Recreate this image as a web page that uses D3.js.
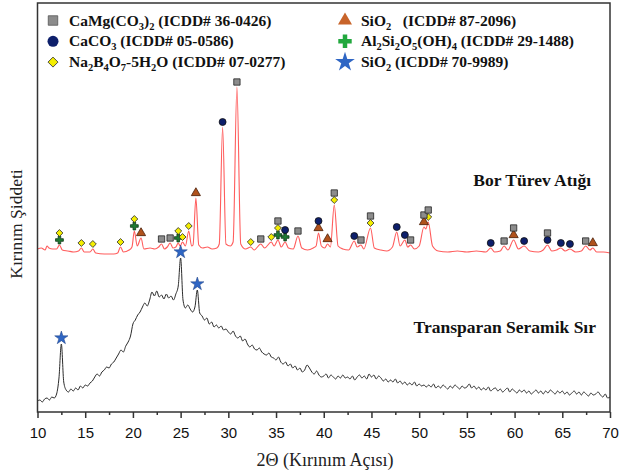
<!DOCTYPE html>
<html>
<head>
<meta charset="utf-8">
<script src="https://cdn.jsdelivr.net/npm/d3@7"></script>
<style>
  body { margin: 0; background: #fff; }
  svg { display: block; }
</style>
</head>
<body>
<div id="chart"></div>
<script>
// 2θ axis ticks
const majorTicks = [10, 15, 20, 25, 30, 35, 40, 45, 50, 55, 60, 65, 70];
const minorTicks = [12.5, 17.5, 22.5, 27.5, 32.5, 37.5, 42.5, 47.5, 52.5, 57.5, 62.5, 67.5];

// Bor Türev Atığı (red trace), 2θ and intensity (a.u.)
const redX = [10.0, 10.4, 10.8, 11.0, 11.2, 11.6, 12.0, 12.3, 12.6, 13.2, 13.8, 14.3, 14.6, 14.9, 15.5, 15.8,
  16.1, 17.0, 18.0, 18.4, 18.7, 19.0, 19.6, 19.9, 20.15, 20.45, 20.85, 21.15, 21.8, 22.3, 22.7, 23.0,
  23.3, 23.6, 23.9, 24.2, 24.5, 24.75, 24.95, 25.2, 25.5, 25.85, 26.15, 26.3, 26.6, 26.9, 27.3, 27.8,
  28.3, 28.8, 29.05, 29.4, 29.75, 30.2, 30.5, 30.9, 31.3, 31.8, 32.35, 32.7, 33.4, 33.8, 34.5, 34.8,
  35.2, 35.55, 35.95, 36.3, 36.8, 37.3, 37.7, 38.3, 38.9, 39.2, 39.45, 39.75, 40.1, 40.4, 40.7, 41.1,
  41.5, 42.0, 42.6, 43.2, 43.5, 43.9, 44.2, 44.9, 45.3, 46.0, 46.6, 47.2, 47.65, 48.0, 48.5, 48.8,
  49.1, 49.5, 50.0, 50.5, 50.7, 50.95, 51.4, 52.0, 53.0, 54.0, 55.0, 56.0, 57.0, 57.5, 57.9, 58.5,
  58.9, 59.3, 59.9, 60.4, 61.0, 61.6, 62.5, 63.0, 63.45, 63.9, 64.4, 64.85, 65.3, 65.8, 66.4, 67.0,
  67.45, 67.9, 68.2, 68.6, 69.3, 70.0];
const redY = [163, 164, 162, 166, 164, 163, 163, 167, 162, 161, 160, 161, 164, 160, 160, 163,
  159, 158, 158, 159, 165, 160, 162, 165, 181, 166, 174, 163, 164, 163, 165, 168,
  163, 165, 169, 164, 165, 169, 166, 170, 166, 181, 166, 167, 214, 167, 164, 165,
  163, 164, 168, 285, 168, 166, 170, 325, 168, 163, 165, 162, 168, 164, 170, 166,
  172, 165, 170, 164, 163, 176, 164, 162, 164, 166, 179, 166, 164, 168, 165, 207,
  166, 163, 162, 171, 165, 167, 163, 184, 164, 162, 161, 165, 180, 166, 172, 165,
  167, 163, 166, 185, 183, 190, 166, 161, 160, 161, 160, 161, 160, 164, 160, 161,
  166, 162, 172, 163, 166, 161, 160, 162, 167, 161, 162, 164, 161, 163, 160, 161,
  166, 162, 164, 160, 160, 159];

// Transparan Seramik Sır (black trace), 2θ from 10 to 70 every 0.25
const blackStart = 10;
const blackStep = 0.25;
const blackY = [
  11, 12, 10, 13, 14, 12, 15, 14, 18, 34, 68, 30, 22, 20, 23, 21,
  24, 22, 26, 24, 27, 26, 29, 31, 35, 38, 36, 40, 42, 45, 44, 48,
  50, 54, 58, 62, 60, 66, 70, 76, 88, 92, 97, 100, 105, 109, 106, 112,
  120, 116, 121, 115, 117, 113, 118, 114, 116, 112, 118, 126, 154, 112, 104, 107,
  103, 100, 105, 122, 99, 96, 92, 94, 88, 90, 85, 87, 84, 86, 82, 83,
  80, 78, 81, 76, 74, 76, 71, 73, 68, 65, 67, 63, 62, 64, 60, 58,
  57, 59, 55, 54, 52, 55, 50, 48, 50, 46, 48, 44, 46, 42, 44, 40,
  42, 47, 44, 40, 38, 41, 37, 35, 36, 38, 34, 37, 35, 33, 36, 34,
  37, 34, 35, 33, 36, 32, 35, 37, 34, 36, 33, 38, 35, 37, 33, 36,
  34, 31, 33, 30, 32, 30, 33, 29, 31, 28, 30, 27, 29, 27, 30, 26,
  28, 26, 27, 25, 27, 25, 28, 24, 26, 24, 27, 25, 23, 26, 24, 27,
  25, 23, 26, 24, 25, 28, 24, 26, 23, 25, 22, 24, 22, 25, 21, 23,
  24, 21, 23, 20, 22, 24, 20, 23, 21, 19, 22, 20, 22, 19, 21, 18,
  20, 22, 19, 21, 18, 21, 19, 22, 20, 18, 21, 19, 21, 18, 20, 17,
  19, 21, 18, 20, 17, 20, 18, 16, 19, 17, 18, 20, 17, 15, 18, 14,
  15];

// phase reflections (2θ)
const dolomitePeaks = [23.0, 23.9, 30.9, 33.4, 35.2, 37.3, 41.1, 43.9, 44.9, 49.1, 50.5, 50.95, 58.9, 59.9, 63.45, 67.45];
const calcitePeaks = [29.4, 35.95, 39.45, 43.2, 47.65, 48.5, 57.5, 61.0, 63.45, 64.85, 65.8];
const boraxPeaks = [12.3, 14.6, 15.8, 18.7, 20.15, 24.75, 25.2, 25.85, 32.35, 34.5, 35.2, 41.1, 44.9, 50.95];
const quartzPeaks = [20.85, 26.6, 39.45, 40.4, 50.5, 59.9, 68.2];
const kaolinitePeaks = [12.3, 20.15, 24.75, 35.2, 35.95];
const glazeQuartzPeaks = [12.5, 25.0, 26.75];

const phaseNames = [
  [['CaMg(CO', 0], ['3', 1], [')', 0], ['2', 1], [' (ICDD# 36-0426)', 0]],
  [['CaCO', 0], ['3', 1], [' (ICDD# 05-0586)', 0]],
  [['Na', 0], ['2', 1], ['B', 0], ['4', 1], ['O', 0], ['7', 1], ['-5H', 0], ['2', 1], ['O (ICDD# 07-0277)', 0]],
  [['SiO', 0], ['2', 1], ['\u00a0\u00a0 (ICDD# 87-2096)', 0]],
  [['Al', 0], ['2', 1], ['Si', 0], ['2', 1], ['O', 0], ['5', 1], ['(OH)', 0], ['4', 1], [' (ICDD# 29-1488)', 0]],
  [['SiO', 0], ['2', 1], [' (ICDD# 70-9989)', 0]]
];

const WIDTH = 619;
const HEIGHT = 475;
const LEFT = 37.5;
const RIGHT = 610;
const TOP = 3;
const BOTTOM = 412;

const serif = '"Times New Roman", "Liberation Serif", serif';
const sans = 'Arial, "Liberation Sans", sans-serif';

const styles = {
  square: { type: d3.symbolSquare, fill: '#8c8c8c', stroke: '#222', size: 40, legendSize: 90, rotate: 0 },
  circle: { type: d3.symbolCircle, fill: '#0d1f6b', stroke: '#111', size: 38, legendSize: 95, rotate: 0 },
  diamond: { type: d3.symbolSquare, fill: '#f4ee00', stroke: '#333', size: 24, legendSize: 50, rotate: 45 },
  triangle: { type: d3.symbolTriangle, fill: '#b0521c', stroke: '#4a1e08', size: 36, legendSize: 85, rotate: 0 },
  plus: { type: d3.symbolCross, fill: '#1f7a33', stroke: '#0f3a18', size: 34, legendSize: 100, rotate: 0 },
  star: { type: d3.symbolStar, fill: '#2f66c4', stroke: '#1d3f80', size: 55, legendSize: 120, rotate: 0 }
};

const symbolPath = (key, size) => d3.symbol().type(styles[key].type).size(size)();

const drawChart = () => {
  const svg = d3.select('#chart')
    .append('svg')
    .attr('width', WIDTH)
    .attr('height', HEIGHT);

  const x = d3.scaleLinear().domain([10, 70]).range([LEFT, RIGHT]);
  const y = d3.scaleLinear().domain([0, BOTTOM - TOP]).range([BOTTOM, TOP]);

  const line = d3.line()
    .x((d) => x(d[0]))
    .y((d) => y(d[1]))
    .curve(d3.curveMonotoneX);

  const redData = redX.map((t, i) => [t, redY[i]]);
  const blackData = blackY.map((v, i) => [blackStart + i * blackStep, v]);

  svg.append('path')
    .datum(blackData)
    .attr('fill', 'none')
    .attr('stroke', '#2b2b2b')
    .attr('stroke-width', 1)
    .attr('d', line);

  svg.append('path')
    .datum(redData)
    .attr('fill', 'none')
    .attr('stroke', '#ff5c5c')
    .attr('stroke-width', 1.1)
    .attr('d', line);

  // markers stacked on top of each red peak, lowest first
  const order = ['plus', 'triangle', 'circle', 'diamond', 'square'];
  const peakSets = {
    plus: kaolinitePeaks,
    triangle: quartzPeaks,
    circle: calcitePeaks,
    diamond: boraxPeaks,
    square: dolomitePeaks
  };
  const marks = [];
  order.forEach((key) => {
    peakSets[key].forEach((t) => {
      const level = marks.filter((m) => Math.abs(m.t - t) < 0.05).length;
      const top = d3.max(redData.filter((d) => Math.abs(d[0] - t) <= 0.2), (d) => d[1]);
      marks.push({ key, t, level, top });
    });
  });

  const markG = svg.append('g');
  markG.selectAll('path')
    .data(marks)
    .join('path')
    .attr('transform', (d) =>
      `translate(${x(d.t)}, ${y(d.top) - 5 - d.level * 7}) rotate(${styles[d.key].rotate})`)
    .attr('d', (d) => symbolPath(d.key, styles[d.key].size))
    .attr('fill', (d) => styles[d.key].fill)
    .attr('stroke', (d) => styles[d.key].stroke)
    .attr('stroke-width', 0.8);

  markG.selectAll('.star')
    .data(glazeQuartzPeaks)
    .join('path')
    .attr('class', 'star')
    .attr('transform', (t) => {
      const top = d3.max(blackData.filter((d) => Math.abs(d[0] - t) <= 0.1), (d) => d[1]);
      return `translate(${x(t)}, ${y(top) - 6})`;
    })
    .attr('d', symbolPath('star', styles.star.size))
    .attr('fill', styles.star.fill)
    .attr('stroke', styles.star.stroke)
    .attr('stroke-width', 0.5);

  // frame
  svg.append('rect')
    .attr('x', LEFT)
    .attr('y', TOP)
    .attr('width', RIGHT - LEFT)
    .attr('height', BOTTOM - TOP)
    .attr('fill', 'none')
    .attr('stroke', '#333')
    .attr('stroke-width', 1.5);

  const axis = svg.append('g')
    .attr('transform', `translate(0, ${BOTTOM})`)
    .call(d3.axisBottom(x).tickValues(majorTicks).tickSize(6).tickPadding(9).tickFormat(d3.format('d')));
  axis.select('.domain').remove();
  axis.selectAll('line').attr('stroke', '#333').attr('stroke-width', 1.5);
  axis.selectAll('text')
    .attr('font-family', sans)
    .attr('font-size', 15)
    .attr('fill', '#111');

  const minorAxis = svg.append('g')
    .attr('transform', `translate(0, ${BOTTOM})`)
    .call(d3.axisBottom(x).tickValues(minorTicks).tickSize(3).tickFormat(''));
  minorAxis.select('.domain').remove();
  minorAxis.selectAll('line').attr('stroke', '#333').attr('stroke-width', 1.5);

  svg.append('text')
    .attr('x', 325)
    .attr('y', 466)
    .attr('text-anchor', 'middle')
    .attr('font-family', serif)
    .attr('font-size', 18)
    .attr('fill', '#222')
    .text('2\u0398 (K\u0131r\u0131n\u0131m A\u00e7\u0131s\u0131)');

  svg.append('text')
    .attr('transform', 'translate(22, 224) rotate(-90)')
    .attr('text-anchor', 'middle')
    .attr('font-family', serif)
    .attr('font-size', 17.5)
    .attr('fill', '#222')
    .text('K\u0131r\u0131n\u0131m \u015eiddeti');

  svg.append('text')
    .attr('x', 591)
    .attr('y', 186)
    .attr('text-anchor', 'end')
    .attr('font-family', serif)
    .attr('font-weight', 'bold')
    .attr('font-size', 17.5)
    .attr('fill', '#111')
    .text('Bor T\u00fcrev At\u0131\u011f\u0131');

  svg.append('text')
    .attr('x', 596)
    .attr('y', 333)
    .attr('text-anchor', 'end')
    .attr('font-family', serif)
    .attr('font-weight', 'bold')
    .attr('font-size', 17.5)
    .attr('fill', '#111')
    .text('Transparan Seramik S\u0131r');

  // legend
  const legendKeys = ['square', 'circle', 'diamond', 'triangle', 'plus', 'star'];
  const legend = svg.append('g')
    .selectAll('g')
    .data(legendKeys)
    .join('g')
    .attr('transform', (_, i) =>
      `translate(${i < 3 ? 53 : 345}, ${20.5 + (i % 3) * 20.8})`);

  legend.append('path')
    .attr('transform', (d) => `rotate(${styles[d].rotate})`)
    .attr('d', (d) => symbolPath(d, styles[d].legendSize))
    .attr('fill', (d) => (d === 'plus' ? '#22a83e' : d === 'triangle' ? '#c8642a' : styles[d].fill))
    .attr('stroke', (d) => (d === 'square' ? '#555' : d === 'diamond' ? '#333' : 'none'))
    .attr('stroke-width', 0.8);

  const label = legend.append('text')
    .attr('x', 16)
    .attr('y', 5)
    .attr('font-family', serif)
    .attr('font-weight', 'bold')
    .attr('font-size', 15.5)
    .attr('fill', '#111');

  label.each(function (_, i) {
    const t = d3.select(this);
    let shifted = false;
    phaseNames[i].forEach(([s, sub]) => {
      const dy = sub && !shifted ? 4 : !sub && shifted ? -4 : 0;
      shifted = !!sub;
      t.append('tspan')
        .attr('dy', dy)
        .attr('font-size', sub ? 10.5 : 15.5)
        .text(s);
    });
  });
};

drawChart();
</script>
</body>
</html>
